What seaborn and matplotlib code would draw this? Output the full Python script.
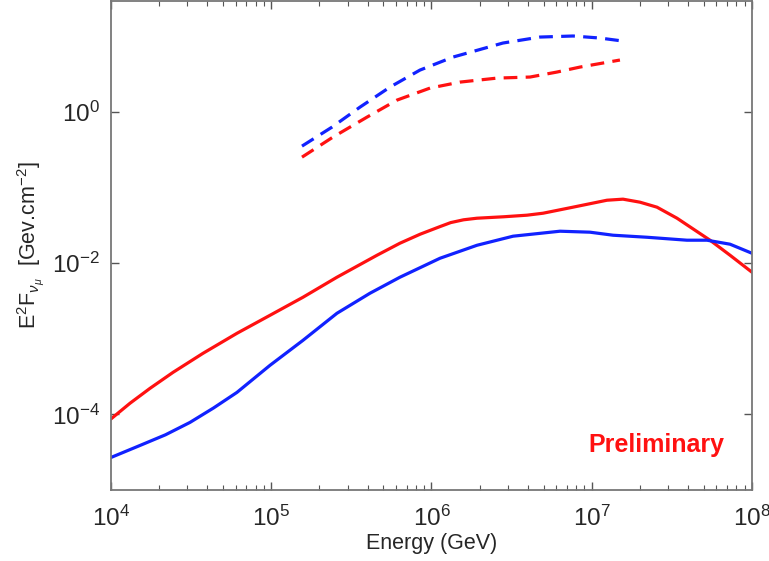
import numpy as np
import pandas as pd
import matplotlib
matplotlib.use('Agg')
import matplotlib.pyplot as plt
from matplotlib.ticker import LogLocator, NullLocator, NullFormatter
import seaborn as sns

sns.set_style('ticks')
plt.rcParams['font.family'] = ['Liberation Sans', 'DejaVu Sans']
plt.rcParams['mathtext.fontset'] = 'custom'
plt.rcParams['mathtext.rm'] = 'Liberation Sans'
plt.rcParams['mathtext.it'] = 'Liberation Sans:italic'
plt.rcParams['mathtext.bf'] = 'Liberation Sans:bold'
plt.rcParams['lines.dashed_pattern'] = [4.3, 2.6]

# values, as log10(E/GeV) and log10(E^2 F)
red_logE = [4.000, 4.119, 4.243, 4.387, 4.574, 4.786, 4.992, 5.198, 5.410, 5.660,
            5.803, 5.930, 6.053, 6.120, 6.200, 6.284, 6.450, 6.596, 6.696, 6.883,
            7.095, 7.195, 7.301, 7.407, 7.532, 7.738, 7.863, 8.000]
red_logF = [-4.060, -3.852, -3.656, -3.444, -3.192, -2.927, -2.689, -2.450, -2.185, -1.894,
            -1.735, -1.615, -1.515, -1.462, -1.425, -1.404, -1.385, -1.364, -1.338, -1.258,
            -1.166, -1.152, -1.192, -1.258, -1.404, -1.695, -1.894, -2.119]

blue_logE = [4.000, 4.181, 4.340, 4.493, 4.640, 4.786, 4.992, 5.198, 5.410, 5.616,
             5.803, 6.053, 6.284, 6.509, 6.802, 6.989, 7.133, 7.345, 7.594, 7.719,
             7.863, 8.000]
blue_logF = [-4.570, -4.411, -4.270, -4.106, -3.915, -3.709, -3.351, -3.020, -2.662, -2.397,
             -2.185, -1.934, -1.762, -1.642, -1.576, -1.589, -1.629, -1.656, -1.695, -1.695,
             -1.748, -1.868]

blue_dash_logE = [5.192, 5.379, 5.554, 5.741, 5.928, 6.134, 6.446, 6.677, 6.883, 7.051, 7.195]
blue_dash_logF = [-0.450, -0.199, 0.066, 0.331, 0.556, 0.728, 0.914, 0.993, 1.007, 0.980, 0.940]

red_dash_logE = [5.192, 5.385, 5.598, 5.785, 5.991, 6.178, 6.409, 6.615, 6.783, 6.927, 7.176]
red_dash_logF = [-0.596, -0.331, -0.066, 0.159, 0.318, 0.397, 0.450, 0.464, 0.530, 0.596, 0.689]

RED = '#ff1111'
BLUE = '#1122ff'

fig = plt.figure(figsize=(7.69, 5.61), dpi=100)
ax = fig.add_axes([0.1443, 0.1266, 0.8336, 0.8716])

series = [
    (red_logE, red_logF, RED, '-'),
    (blue_logE, blue_logF, BLUE, '-'),
    (blue_dash_logE, blue_dash_logF, BLUE, '--'),
    (red_dash_logE, red_dash_logF, RED, '--'),
]
for lx, ly, col, ls in series:
    d = pd.DataFrame({'E': 10 ** np.array(lx), 'F': 10 ** np.array(ly)})
    sns.lineplot(data=d, x='E', y='F', ax=ax, color=col, linewidth=2.3,
                 linestyle=ls, sort=False, estimator=None)

ax.set_xscale('log')
ax.set_yscale('log')
ax.set_xlim(1e4, 1e8)
ax.set_ylim(1e-5, 10 ** 1.47)

ax.xaxis.set_major_locator(LogLocator(base=10, numticks=10))
ax.xaxis.set_minor_locator(LogLocator(base=10, subs=np.arange(2, 10), numticks=20))
ax.xaxis.set_minor_formatter(NullFormatter())
ax.set_yticks([1e-4, 1e-2, 1e0])
ax.yaxis.set_minor_locator(NullLocator())

ax.tick_params(which='both', direction='in', top=True, right=True,
               color='#555555', labelsize=17.5)
ax.tick_params(axis='x', pad=11)
ax.tick_params(axis='y', pad=8)
ax.tick_params(which='major', length=6, width=1.0)
ax.tick_params(which='minor', length=3.5, width=0.8)
for sp in ax.spines.values():
    sp.set_color('#777777')
    sp.set_linewidth(1.3)

ax.set_xlabel('Energy (GeV)', fontsize=15.5, labelpad=2)
ax.set_ylabel(r'E$^2$F$_{ν_{μ}}$  [Gev.cm$^{-2}$]', fontsize=15.5, labelpad=4)

ax.text(0.744, 0.078, 'Preliminary', transform=ax.transAxes, color=RED,
        fontsize=18, fontweight='bold', ha='left', va='baseline')

fig.savefig('out.png', dpi=100)
